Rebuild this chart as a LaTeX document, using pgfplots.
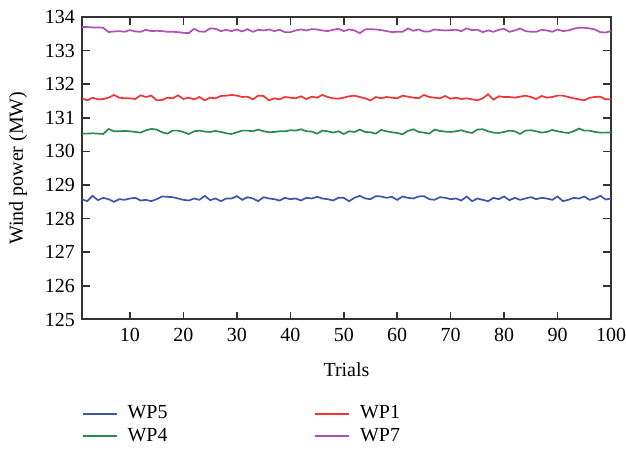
\documentclass[border=0pt]{standalone}
\usepackage{fontspec}
\setmainfont{Liberation Serif}
\usepackage{pgfplots}
\usepackage{pgfplotstable}
\pgfplotsset{compat=1.18}
\definecolor{cWPfive}{HTML}{3A56B0}
\definecolor{cWPfour}{HTML}{2A8A4A}
\definecolor{cWPone}{HTML}{F03434}
\definecolor{cWPseven}{HTML}{B050B4}
\pgfplotstableread{
x wp5 wp1 wp4 wp7
1 128.58 131.58 130.53 133.70
2 128.52 131.52 130.53 133.70
3 128.68 131.60 130.54 133.69
4 128.55 131.55 130.53 133.69
5 128.62 131.56 130.52 133.68
6 128.58 131.60 130.67 133.55
7 128.50 131.68 130.60 133.57
8 128.58 131.60 130.60 133.58
9 128.56 131.58 130.61 133.56
10 128.60 131.58 130.60 133.61
11 128.62 131.56 130.58 133.57
12 128.54 131.67 130.56 133.56
13 128.56 131.62 130.63 133.62
14 128.52 131.66 130.67 133.58
15 128.58 131.52 130.65 133.59
16 128.66 131.53 130.57 133.58
17 128.65 131.60 130.53 133.56
18 128.64 131.58 130.62 133.56
19 128.60 131.67 130.62 133.55
20 128.56 131.56 130.58 133.53
21 128.54 131.60 130.52 133.52
22 128.60 131.55 130.60 133.65
23 128.56 131.62 130.62 133.57
24 128.68 131.52 130.59 133.56
25 128.55 131.60 130.58 133.66
26 128.60 131.58 130.61 133.65
27 128.52 131.65 130.58 133.58
28 128.60 131.66 130.54 133.62
29 128.60 131.68 130.52 133.58
30 128.67 131.66 130.57 133.63
31 128.56 131.62 130.62 133.57
32 128.64 131.63 130.62 133.64
33 128.60 131.55 130.60 133.56
34 128.52 131.66 130.65 133.62
35 128.64 131.65 130.60 133.60
36 128.60 131.52 130.57 133.63
37 128.58 131.58 130.58 133.58
38 128.54 131.55 130.60 133.62
39 128.62 131.62 130.60 133.55
40 128.58 131.60 130.63 133.55
41 128.60 131.58 130.62 133.60
42 128.54 131.64 130.66 133.63
43 128.62 131.56 130.60 133.60
44 128.60 131.63 130.59 133.64
45 128.65 131.60 130.53 133.63
46 128.60 131.68 130.62 133.60
47 128.58 131.62 130.60 133.58
48 128.54 131.58 130.56 133.62
49 128.62 131.57 130.60 133.65
50 128.62 131.60 130.52 133.58
51 128.52 131.64 130.60 133.63
52 128.62 131.66 130.58 133.60
53 128.68 131.62 130.65 133.52
54 128.60 131.58 130.58 133.63
55 128.58 131.52 130.57 133.64
56 128.67 131.62 130.53 133.63
57 128.66 131.58 130.64 133.61
58 128.62 131.62 130.60 133.58
59 128.65 131.60 130.57 133.55
60 128.56 131.58 130.55 133.56
61 128.66 131.66 130.51 133.56
62 128.62 131.63 130.61 133.66
63 128.60 131.60 130.66 133.59
64 128.66 131.58 130.58 133.63
65 128.67 131.68 130.56 133.57
66 128.58 131.62 130.53 133.57
67 128.56 131.60 130.65 133.63
68 128.64 131.58 130.61 133.61
69 128.62 131.65 130.59 133.60
70 128.58 131.57 130.58 133.61
71 128.60 131.60 130.60 133.62
72 128.54 131.56 130.63 133.58
73 128.66 131.58 130.58 133.66
74 128.52 131.55 130.55 133.61
75 128.60 131.52 130.65 133.62
76 128.56 131.58 130.66 133.55
77 128.52 131.70 130.60 133.60
78 128.62 131.54 130.56 133.56
79 128.58 131.64 130.55 133.62
80 128.66 131.62 130.58 133.65
81 128.55 131.62 130.62 133.56
82 128.62 131.60 130.60 133.60
83 128.56 131.63 130.52 133.66
84 128.60 131.66 130.62 133.58
85 128.64 131.62 130.63 133.56
86 128.58 131.56 130.60 133.56
87 128.62 131.65 130.56 133.62
88 128.60 131.60 130.58 133.60
89 128.56 131.62 130.64 133.56
90 128.66 131.66 130.60 133.63
91 128.52 131.66 130.57 133.58
92 128.56 131.62 130.55 133.60
93 128.62 131.58 130.60 133.65
94 128.60 131.55 130.68 133.68
95 128.66 131.52 130.62 133.68
96 128.56 131.60 130.62 133.66
97 128.60 131.62 130.58 133.63
98 128.68 131.63 130.56 133.55
99 128.57 131.55 130.56 133.54
100 128.60 131.55 130.57 133.58
}\datatable
\begin{document}
\begin{tikzpicture}
\begin{axis}[
  scale only axis,
  width=265pt, height=151.5pt,
  xmin=1, xmax=100, ymin=125, ymax=134,
  xtick={10,20,...,100}, ytick={125,126,...,134},
  tick align=inside,
  axis line style={line width=1pt, black!80},
  major tick style={line width=0.8pt, black!80},
  major tick length=4pt,
  /pgf/number format/assume math mode=true,
  xticklabel style={yshift=-1pt},
  xlabel={Trials}, ylabel={Wind power (MW)},
  xlabel style={yshift=-3.5pt},
  ylabel style={yshift=2pt},
  legend columns=2,
  legend cell align=left,
  legend style={draw=none, fill=none, at={(0,-0.272)}, anchor=north west,
    inner sep=0pt, outer sep=0pt, row sep=-1pt,
    nodes={inner xsep=5pt},
    /tikz/every even column/.append style={column sep=68.5pt}},
  every axis plot/.append style={line width=0.85pt},
]
\addplot[cWPfive, no markers] table[x=x, y=wp5] {\datatable};
\addlegendentry{WP5}
\addplot[cWPone, no markers] table[x=x, y=wp1] {\datatable};
\addlegendentry{WP1}
\addplot[cWPfour, no markers] table[x=x, y=wp4] {\datatable};
\addlegendentry{WP4}
\addplot[cWPseven, no markers] table[x=x, y=wp7] {\datatable};
\addlegendentry{WP7}
\end{axis}
\pgfresetboundingbox
\useasboundingbox ([shift={(-41pt,-68pt)}]current axis.south west) rectangle +(313.5pt,228pt);
\end{tikzpicture}
\end{document}
